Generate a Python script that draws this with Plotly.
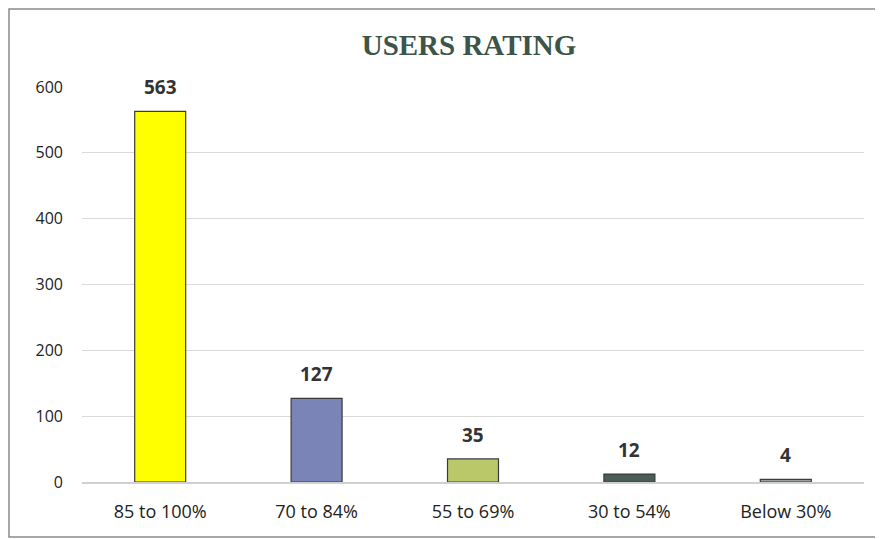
import plotly.graph_objects as go

categories = ["85 to 100%", "70 to 84%", "55 to 69%", "30 to 54%", "Below 30%"]
values = [563, 127, 35, 12, 4]
colors = ["#FFFF00", "#7B84B6", "#BBC86A", "#4B5E55", "#9AA0A0"]
title_text = "USERS RATING"
y_ticks = [0, 100, 200, 300, 400, 500, 600]

W, H = 883, 539
ml, mr, mt, mb = 74, 27, 79, 65
pw = W - ml - mr
ph = H - mt - mb

fig = go.Figure()
fig.add_trace(go.Bar(
    x=categories, y=values,
    marker=dict(color=colors, line=dict(color="#3a3a3a", width=1.2)),
    width=0.326,
    hoverinfo="x+y",
))

for c, v in zip(categories, values):
    fig.add_annotation(x=c, y=v, text="<b>%d</b>" % v, showarrow=False,
                       yanchor="middle", yshift=24,
                       font=dict(family="Open Sans, Lato, sans-serif", size=19, color="#333333"))

fig.add_shape(type="rect", xref="paper", yref="paper",
              x0=(1 - ml) / pw, x1=(W + 10 - ml) / pw,
              y0=(H - mb - 529) / ph, y1=(H - mb - 1) / ph,
              line=dict(color="#8a8a8a", width=1.5), layer="below")

fig.update_layout(
    width=W, height=H,
    margin=dict(l=ml, r=mr, t=mt, b=mb),
    paper_bgcolor="white", plot_bgcolor="white",
    title=dict(text="<b>" + title_text + "</b>", x=461 / W, xanchor="center",
               y=1 - 37 / H, yanchor="middle",
               font=dict(family="Liberation Serif, Times New Roman, serif", size=29, color="#3D5448")),
    showlegend=False,
    xaxis=dict(showgrid=False, showline=True, linecolor="#d0d0d0", linewidth=1.5,
               ticks="", ticklabelstandoff=13,
               tickfont=dict(family="Open Sans, Lato, sans-serif", size=18, color="#222222")),
    yaxis=dict(range=[0, 600], tickvals=y_ticks, showgrid=True, gridcolor="#dadada", gridwidth=1.2,
               zeroline=False, showline=False, ticks="", ticklabelstandoff=18,
               tickfont=dict(family="Open Sans, Lato, sans-serif", size=16, color="#222222")),
)

fig.write_html("out.html")
